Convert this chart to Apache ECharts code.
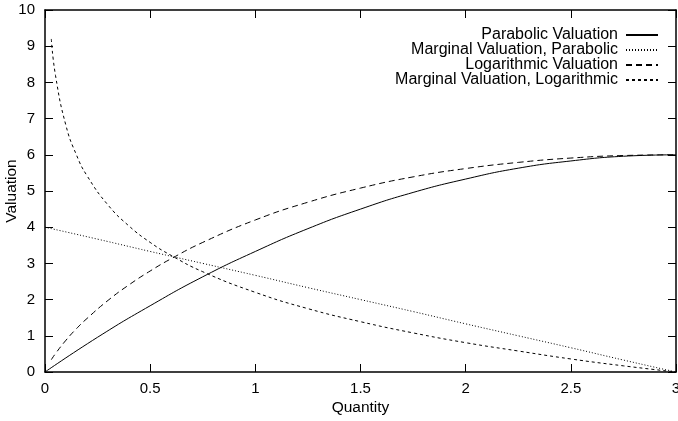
<!DOCTYPE html>
<html>
<head>
<meta charset="utf-8">
<script src="https://cdn.jsdelivr.net/npm/echarts@6/dist/echarts.min.js"></script>
<style>
  html, body { margin: 0; padding: 0; background: #fff; }
  #chart { width: 678px; height: 421px; }
</style>
</head>
<body>
<div id="chart"></div>
<script>
// 数据：数值
var qParab = [0, 0.25, 0.5, 0.75, 1, 1.25, 1.5, 1.75, 2, 2.25, 2.5, 2.75, 3];
var parabValue = [0, 0.96, 1.83, 2.63, 3.33, 3.96, 4.5, 4.96, 5.33, 5.63, 5.83, 5.96, 6];
var parabMarginal = [4, 3.67, 3.33, 3.0, 2.67, 2.33, 2.0, 1.67, 1.33, 1.0, 0.67, 0.33, 0];

var qLog = [0.03, 0.05, 0.1, 0.15, 0.2, 0.3, 0.4, 0.5, 0.6, 0.75, 1, 1.25, 1.5, 1.75, 2, 2.25, 2.5, 2.75, 3];
var logValue = [0.34, 0.51, 0.88, 1.2, 1.48, 1.98, 2.41, 2.79, 3.13, 3.58, 4.2, 4.69, 5.08, 5.39, 5.62, 5.79, 5.91, 5.98, 6];
var logMarginal = [9.2, 8.19, 6.8, 5.99, 5.42, 4.61, 4.03, 3.58, 3.22, 2.77, 2.2, 1.75, 1.39, 1.08, 0.81, 0.58, 0.36, 0.17, 0];

var seriesNames = [
    'Parabolic Valuation',
    'Marginal Valuation, Parabolic',
    'Logarithmic Valuation',
    'Marginal Valuation, Logarithmic'
];

function pairs(xs, ys) {
    return xs.map(function (x, i) {
        return [x, ys[i]];
    });
}

var chart = echarts.init(document.getElementById('chart'), null, { renderer: 'canvas' });
var font = 'Liberation Sans, Arial, Helvetica, sans-serif';
// 边框和刻度
var frameLine = { show: true, onZero: false, lineStyle: { color: '#000', width: 1.5 } };
var frameTick = { show: true, inside: true, length: 8, lineStyle: { color: '#000', width: 1 } };

var option = {
    backgroundColor: '#fff',
    animation: false,
    textStyle: { fontFamily: font },
    grid: { left: 45, right: 2, top: 10, bottom: 49, outerBoundsMode: 'none', containLabel: false },
    legend: {
        orient: 'vertical',
        right: 14,
        top: 22,
        align: 'right',
        itemWidth: 32,
        itemHeight: 8,
        itemGap: -1,
        selectedMode: false,
        itemStyle: { opacity: 0 },
        textStyle: { fontFamily: font, fontSize: 16, color: '#000', padding: [0, 3, 0, 0] },
        data: seriesNames
    },
    xAxis: [{
        type: 'value',
        min: 0,
        max: 3,
        interval: 0.5,
        name: 'Quantity',
        nameLocation: 'middle',
        nameGap: 28,
        nameMoveOverlap: false,
        nameTextStyle: { fontFamily: font, fontSize: 15.5, color: '#000' },
        axisLine: frameLine,
        axisTick: frameTick,
        axisLabel: { fontFamily: font, fontSize: 15, color: '#000', margin: 9 },
        splitLine: { show: false }
    }, {
        type: 'value',
        position: 'top',
        min: 0,
        max: 3,
        interval: 0.5,
        axisLine: frameLine,
        axisTick: frameTick,
        axisLabel: { show: false },
        splitLine: { show: false }
    }],
    yAxis: [{
        type: 'value',
        min: 0,
        max: 10,
        interval: 1,
        name: 'Valuation',
        nameLocation: 'middle',
        nameGap: 25,
        nameMoveOverlap: false,
        nameTextStyle: { fontFamily: font, fontSize: 15.5, color: '#000' },
        axisLine: frameLine,
        axisTick: frameTick,
        axisLabel: { fontFamily: font, fontSize: 15, color: '#000', margin: 10 },
        splitLine: { show: false }
    }, {
        type: 'value',
        position: 'right',
        min: 0,
        max: 10,
        interval: 1,
        axisLine: frameLine,
        axisTick: frameTick,
        axisLabel: { show: false },
        splitLine: { show: false }
    }],
    series: [{
        name: seriesNames[0],
        type: 'line',
        smooth: true,
        symbol: 'none',
        color: '#000',
        lineStyle: { color: '#000', width: 1 },
        data: pairs(qParab, parabValue)
    }, {
        name: seriesNames[1],
        type: 'line',
        smooth: true,
        symbol: 'none',
        color: '#000',
        lineStyle: { color: '#000', width: 1, type: [1, 2] },
        data: pairs(qParab, parabMarginal)
    }, {
        name: seriesNames[2],
        type: 'line',
        smooth: true,
        symbol: 'none',
        color: '#000',
        lineStyle: { color: '#000', width: 1, type: [6, 4] },
        data: pairs(qLog, logValue)
    }, {
        name: seriesNames[3],
        type: 'line',
        smooth: true,
        symbol: 'none',
        color: '#000',
        lineStyle: { color: '#000', width: 1, type: [3, 3] },
        data: pairs(qLog, logMarginal)
    }]
};

chart.setOption(option);
</script>
</body>
</html>
